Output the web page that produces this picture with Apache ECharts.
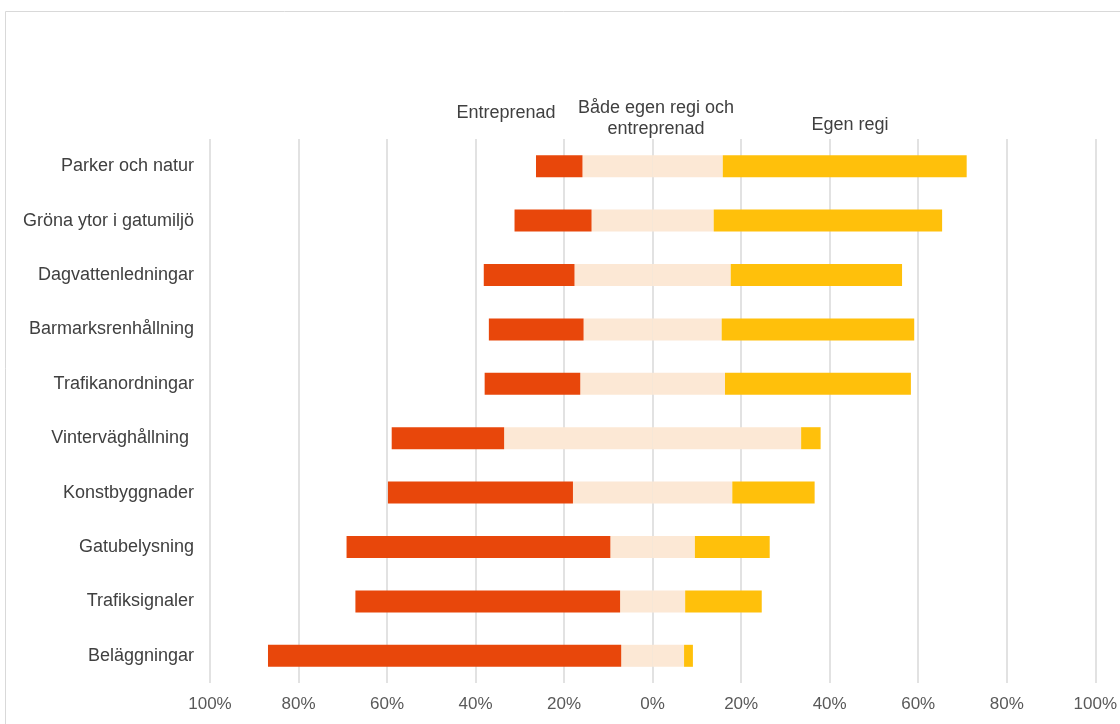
<!DOCTYPE html>
<html>
<head>
<meta charset="utf-8">
<script src="https://cdn.jsdelivr.net/npm/echarts@6/dist/echarts.min.js"></script>
<style>
  html, body { margin: 0; padding: 0; background: #fff; }
  #chart { width: 1120px; height: 724px; }
</style>
</head>
<body>
<div id="chart"></div>
<script>
// categories top -> bottom
const categories = [
  'Parker och natur',
  'Gröna ytor i gatumiljö',
  'Dagvattenledningar',
  'Barmarksrenhållning',
  'Trafikanordningar',
  'Vinterväghållning ',
  'Konstbyggnader',
  'Gatubelysning',
  'Trafiksignaler',
  'Beläggningar'
]
// share in percent
const entreprenad = [10.5, 17.4, 20.5, 21.4, 21.6, 25.4, 41.8, 59.6, 59.8, 79.8]
const bada = [31.7, 27.6, 35.3, 31.2, 32.7, 67.1, 36.0, 19.1, 14.7, 14.2]
const egenRegi = [55.1, 51.6, 38.7, 43.5, 42.0, 4.4, 18.6, 16.9, 17.3, 2.0]

const colors = {
  entreprenad: '#E8470B',
  bada: '#FCE8D5',
  egen: '#FFC00B'
}

// category axis is drawn bottom -> top, so reverse
const cats = categories.slice().reverse()
const rev = arr => arr.slice().reverse()
const badaNeg = rev(bada).map(v => -v / 2)
const badaPos = rev(bada).map(v => v / 2)
const entrNeg = rev(entreprenad).map(v => -v)
const egenPos = rev(egenRegi)

const font = '"Liberation Sans", Arial, sans-serif'

const chart = echarts.init(document.getElementById('chart'), null, { renderer: 'canvas' })

const barBase = {
  type: 'bar',
  stack: 'total',
  barWidth: 22,
  silent: true
}

const option = {
  animation: false,
  backgroundColor: '#fff',
  textStyle: { fontFamily: font },
  grid: {
    left: 210,
    right: 23,
    top: 139,
    bottom: 41,
    containLabel: false
  },
  xAxis: {
    type: 'value',
    min: -100,
    max: 100,
    interval: 20,
    axisLine: { show: false },
    axisTick: { show: false },
    splitLine: { show: true, lineStyle: { color: '#d9d9d9', width: 1.5 } },
    axisLabel: {
      color: '#595959',
      fontSize: 17,
      fontFamily: font,
      margin: 13,
      formatter: v => Math.abs(v) + '%'
    }
  },
  yAxis: {
    type: 'category',
    data: cats,
    axisLine: { show: false },
    axisTick: { show: false },
    axisLabel: {
      color: '#404040',
      fontSize: 18,
      fontFamily: font,
      margin: 16
    }
  },
  series: [
    Object.assign({}, barBase, {
      name: 'Både egen regi och entreprenad',
      data: badaNeg,
      itemStyle: { color: colors.bada }
    }),
    Object.assign({}, barBase, {
      name: 'Entreprenad',
      data: entrNeg,
      itemStyle: { color: colors.entreprenad }
    }),
    Object.assign({}, barBase, {
      name: 'Både egen regi och entreprenad ',
      data: badaPos,
      itemStyle: { color: colors.bada }
    }),
    Object.assign({}, barBase, {
      name: 'Egen regi',
      data: egenPos,
      itemStyle: { color: colors.egen }
    })
  ],
  graphic: [
    {
      type: 'rect',
      silent: true,
      shape: { x: 5.5, y: 11.5, width: 1130, height: 730 },
      style: { fill: null, stroke: '#d9d9d9', lineWidth: 1 }
    },
    {
      type: 'text',
      x: 506,
      y: 113,
      style: {
        text: 'Entreprenad', fill: '#404040', font: '18px ' + font,
        align: 'center', verticalAlign: 'middle'
      }
    },
    {
      type: 'text',
      x: 656,
      y: 119,
      style: {
        text: 'Både egen regi och\nentreprenad',
        fill: '#404040',
        font: '18px ' + font,
        align: 'center',
        verticalAlign: 'middle',
        lineHeight: 21
      }
    },
    {
      type: 'text',
      x: 850,
      y: 125,
      style: {
        text: 'Egen regi', fill: '#404040', font: '18px ' + font,
        align: 'center', verticalAlign: 'middle'
      }
    }
  ]
}

chart.setOption(option)
</script>
</body>
</html>
